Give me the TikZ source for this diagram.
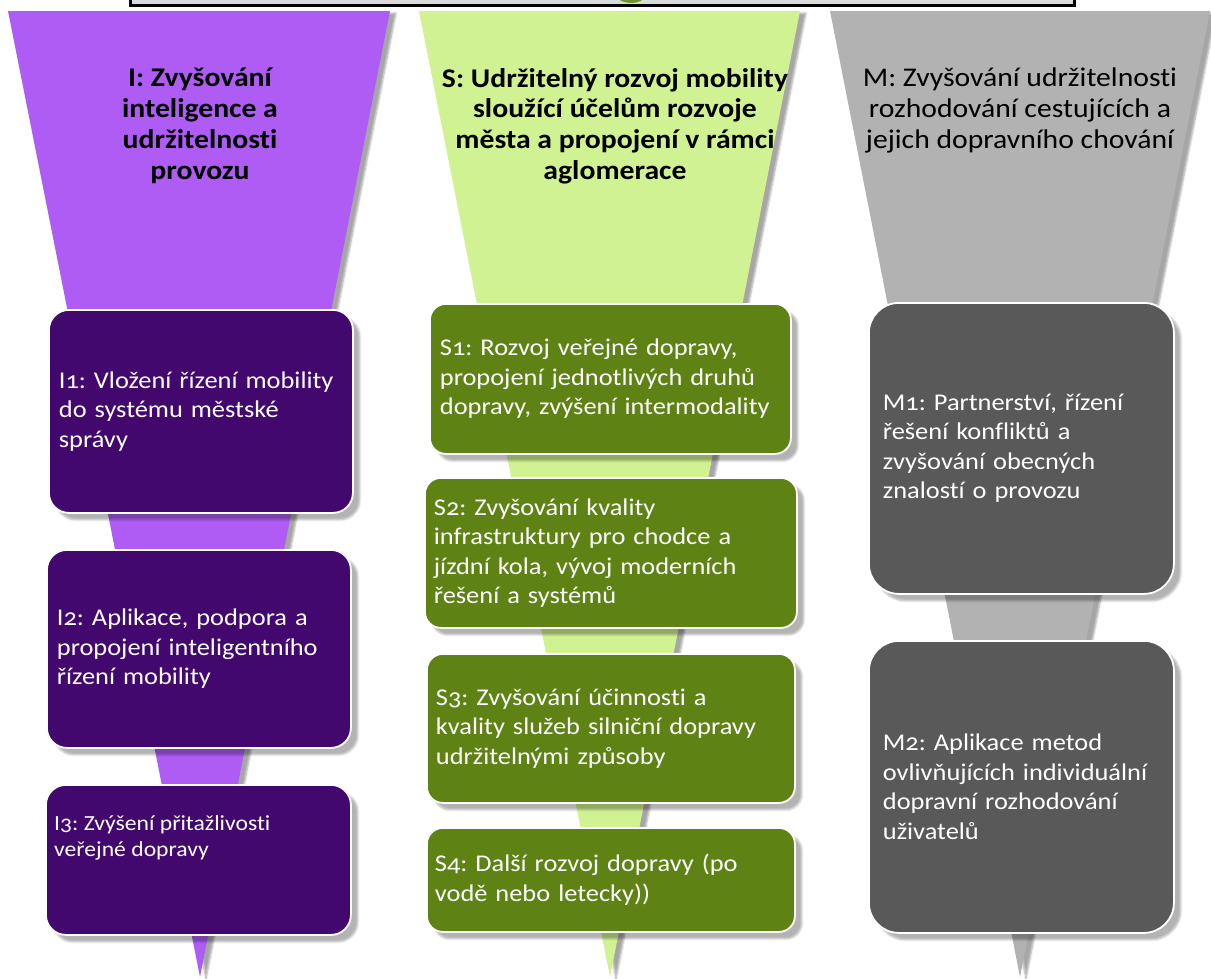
\documentclass[tikz,border=0pt]{standalone}
\usepackage{fontspec}
\setmainfont{Carlito}[Numbers=OldStyle, Ligatures=NoCommon, FakeStretch=1.1]
\usetikzlibrary{shadows.blur}
\definecolor{purpL}{RGB}{174,92,244}
\definecolor{purpD}{RGB}{66,8,110}
\definecolor{grnL}{RGB}{208,242,146}
\definecolor{grnD}{RGB}{94,130,20}
\definecolor{gryL}{RGB}{178,178,178}
\definecolor{gryD}{RGB}{89,89,89}
\definecolor{topfill}{RGB}{218,218,218}
\definecolor{blobgreen}{RGB}{110,150,40}
\frenchspacing
\begin{document}
\begin{tikzpicture}[x=1pt,y=-1pt,
  funnel/.style={blur shadow={shadow xshift=6pt,shadow yshift=-2pt,shadow blur steps=5,shadow opacity=35}},
  boxbase/.style={rectangle, draw=white, line width=1.8pt, text=white, align=left,
    anchor=north west, inner ysep=0pt,
    blur shadow={shadow xshift=7pt,shadow yshift=-7pt,shadow blur steps=5,shadow opacity=30},
    font=\fontsize{24}{29.5}\selectfont},
  pbox/.style={boxbase, fill=purpD, rounded corners=20pt, inner xsep=10pt},
  gbox/.style={boxbase, fill=grnD, rounded corners=16pt, inner xsep=10pt},
  mbox/.style={boxbase, fill=gryD, rounded corners=30pt, inner xsep=14pt},
  title/.style={anchor=north, align=center, inner sep=0pt, text=black,
    font=\fontsize{27}{30.8}\selectfont}
]
\useasboundingbox (0,0) rectangle (1211,978);

% top box (cut off)
\draw[line width=3pt, fill=topfill] (130,-20) rectangle (1074,5.5);
\begin{scope}
  \clip (130,-20) rectangle (1074,4);
  \fill[blobgreen] (631,-20) circle (23);
\end{scope}

% funnels
\fill[purpL, funnel] (8,11) -- (390,11) -- (200,977) -- cycle;
\fill[grnL, funnel] (419,11) -- (800,11) -- (610,977) -- cycle;
\fill[gryL, funnel] (830,11) -- (1210,11) -- (1020,977) -- cycle;

% titles
\node[title, font=\fontsize{27}{30.8}\selectfont\bfseries] (Ititle) at (200,68)
  {I: Zvyšování\\inteligence a\\udržitelnosti\\provozu};
\node[title, font=\fontsize{27}{30.8}\selectfont\bfseries] (Stitle) at (615,68)
  {S: Udržitelný rozvoj mobility\\sloužící účelům rozvoje\\města a propojení v rámci\\aglomerace};
\node[title] (Mtitle) at (1020,68)
  {M: Zvyšování udržitelnosti\\rozhodování cestujících a\\jejich dopravního chování};

% purple boxes
\node[pbox, minimum width=304pt, minimum height=203pt, text width=284pt] (I1) at (48,309)
  {I1: Vložení řízení mobility\\do systému městské\\správy};
\node[pbox, minimum width=304pt, minimum height=198pt, text width=284pt] (I2) at (46,549)
  {I2: Aplikace, podpora a\\propojení inteligentního\\řízení mobility};
\node[pbox, minimum width=305pt, minimum height=150pt, text width=285pt] (I3) at (45,784) {};
\node[anchor=north west, align=left, inner sep=0pt, text=white,
  font=\fontsize{21.5}{26.5}\selectfont] (I3text) at (54,815)
  {I3: Zvýšení přitažlivosti\\veřejné dopravy};

% green boxes
\node[gbox, minimum width=361pt, minimum height=150pt, text width=341pt] (S1) at (429,303)
  {S1: Rozvoj veřejné dopravy,\\propojení jednotlivých druhů\\dopravy, zvýšení intermodality};
\node[gbox, minimum width=372pt, minimum height=150pt, text width=354pt, inner xsep=9pt] (S2) at (424,477)
  {S2: Zvyšování kvality\\infrastruktury pro chodce a\\jízdní kola, vývoj moderních\\řešení a systémů};
\node[gbox, minimum width=368pt, minimum height=149pt, text width=350pt, inner xsep=9pt] (S3) at (426,653)
  {S3: Zvyšování účinnosti a\\kvality služeb silniční dopravy\\udržitelnými způsoby};
\node[gbox, minimum width=368pt, minimum height=104pt, text width=352pt, inner xsep=8pt] (S4) at (426,827)
  {S4: Další rozvoj dopravy (po\\vodě nebo letecky))};

% grey boxes
\node[mbox, minimum width=305pt, minimum height=291pt, text width=277pt] (M1) at (868,302)
  {M1: Partnerství, řízení\\řešení konfliktů a\\zvyšování obecných\\znalostí o provozu};
\node[mbox, minimum width=305pt, minimum height=292pt, text width=277pt] (M2) at (868,640)
  {M2: Aplikace metod\\ovlivňujících individuální\\dopravní rozhodování\\uživatelů};
\end{tikzpicture}
\end{document}
